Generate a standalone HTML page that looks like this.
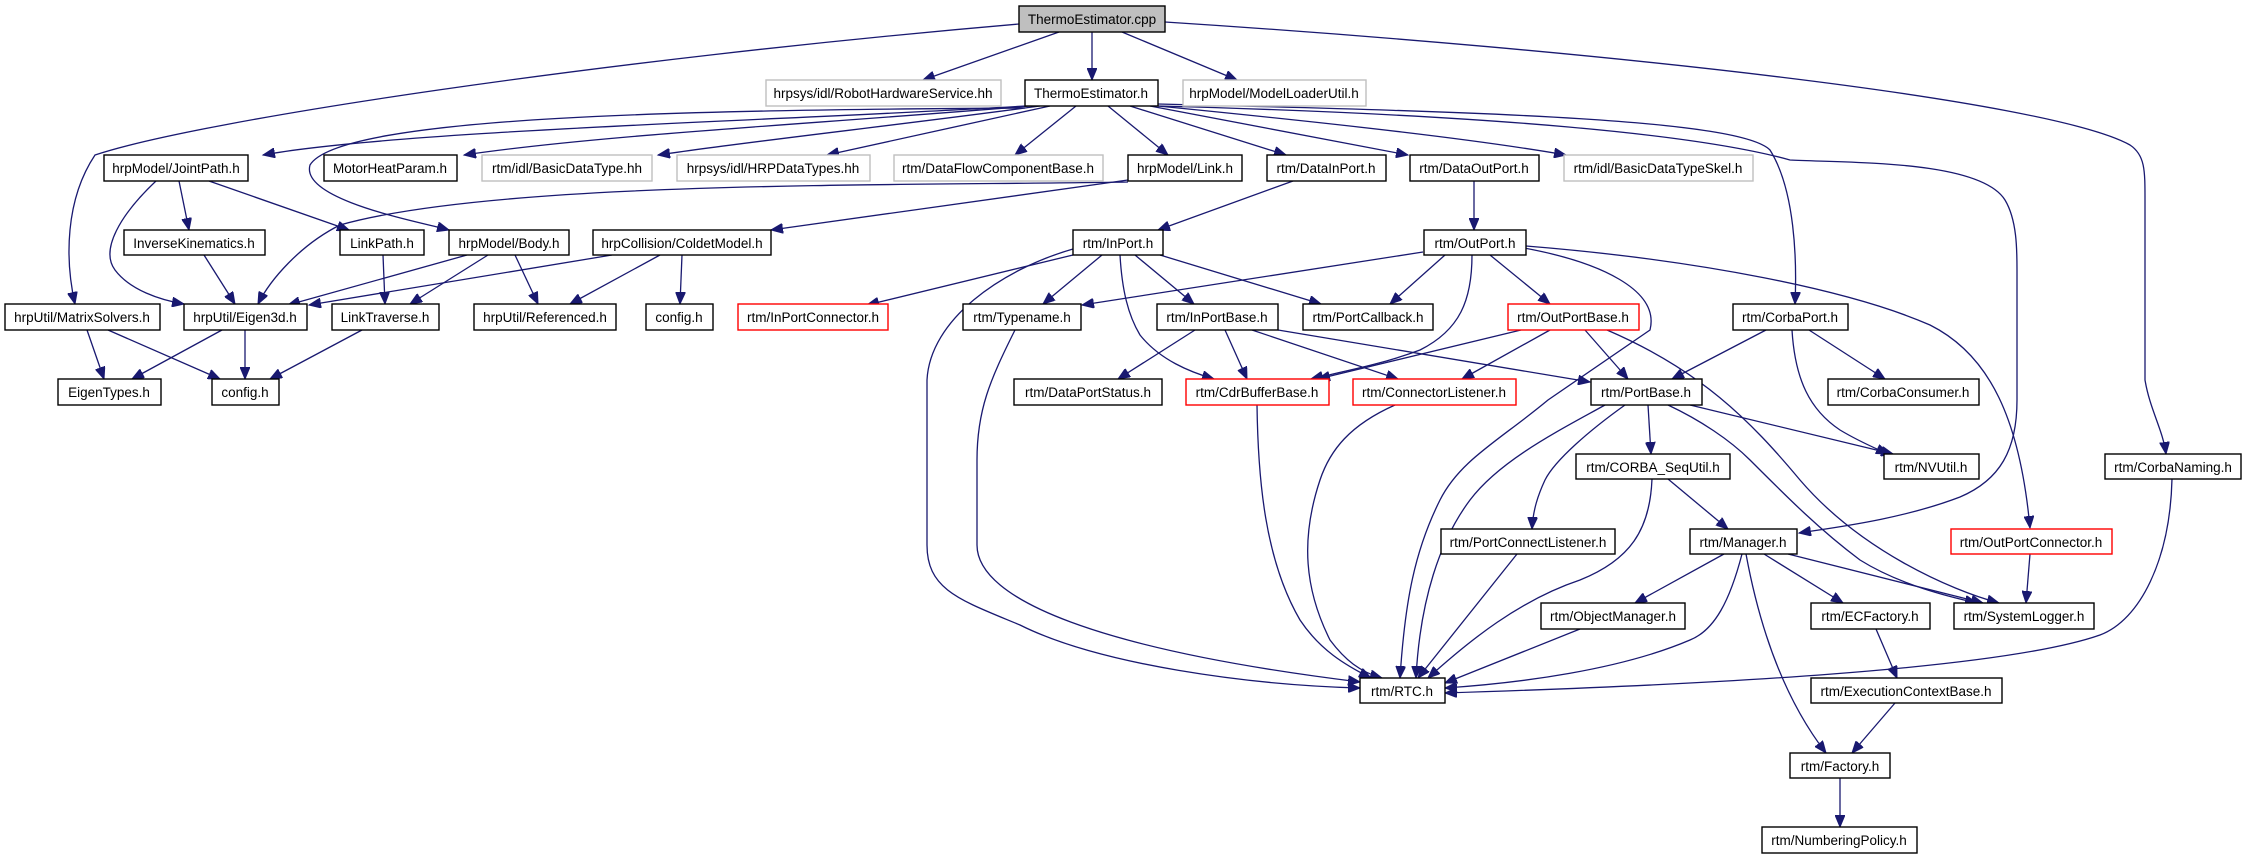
<!DOCTYPE html>
<html><head><meta charset="utf-8"><style>
html,body{margin:0;padding:0;background:#fff;}
svg{display:block;}
text{font-family:"Liberation Sans",sans-serif;font-size:13.5px;text-anchor:middle;fill:#000;}
.e{fill:none;stroke:#191970;stroke-width:1.3;marker-end:url(#a);}
.n{fill:#fff;stroke:#000;stroke-width:1.4;}
.g{fill:#fff;stroke:#bfbfbf;stroke-width:1.4;}
.r{fill:#fff;stroke:#ff0000;stroke-width:1.4;}
</style></head><body>
<svg width="2247" height="859" viewBox="0 0 2247 859" xmlns="http://www.w3.org/2000/svg">
<defs><marker id="a" markerUnits="userSpaceOnUse" markerWidth="14" markerHeight="10" refX="12" refY="5" orient="auto"><path d="M0,0 L12,5 L0,10 z" fill="#191970" stroke="#191970"/></marker></defs>

<!-- edges -->
<path class="e" d="M1059,32 L923,80"/>
<path class="e" d="M1092,32 L1092,80"/>
<path class="e" d="M1122,32 L1237,80"/>
<path class="e" d="M1019,24 C600,60 200,120 95,155 C65,200 65,260 75,304"/>
<path class="e" d="M1165,22 C1600,50 2050,100 2130,145 C2145,155 2145,170 2145,200 L2145,380 C2150,410 2163,430 2166,454"/>

<path class="e" d="M1025,106 C800,120 400,130 263,155"/>
<path class="e" d="M1030,106 C800,125 600,135 464,155"/>
<path class="e" d="M1040,106 C900,125 760,140 658,155"/>
<path class="e" d="M1050,106 L827,155"/>
<path class="e" d="M1076,106 L1015,155"/>
<path class="e" d="M1108,106 L1168,155"/>
<path class="e" d="M1130,106 L1286,155"/>
<path class="e" d="M1150,106 L1408,155"/>
<path class="e" d="M1158,106 C1350,125 1480,140 1566,155"/>
<path class="e" d="M1025,108 C700,110 340,115 310,165 C300,200 420,222 449,230"/>
<path class="e" d="M1158,104 C1500,112 1740,120 1770,150 C1795,190 1797,260 1795,304"/>
<path class="e" d="M1158,106 C1500,115 1700,135 1790,160 C1850,163 1980,160 2005,200 C2017,220 2017,250 2017,270 L2017,400 C2017,450 2000,480 1960,497 C1900,520 1830,528 1799,533"/>

<path class="e" d="M1128,182 C900,186 500,180 340,225 C300,245 270,280 258,304"/>
<path class="e" d="M1128,180 L771,230"/>
<path class="e" d="M1293,181 L1158,230"/>
<path class="e" d="M1474,181 L1474,230"/>

<path class="e" d="M467,255 L288,305"/>
<path class="e" d="M488,255 L410,304"/>
<path class="e" d="M515,255 L538,304"/>
<path class="e" d="M612,255 L309,305"/>
<path class="e" d="M660,255 L570,304"/>
<path class="e" d="M682,255 L680,304"/>
<path class="e" d="M179,181 L189,230"/>
<path class="e" d="M209,181 L349,230"/>
<path class="e" d="M156,181 C120,215 100,250 115,270 C130,290 160,300 184,304"/>
<path class="e" d="M204,255 L235,304"/>
<path class="e" d="M383,255 L385,304"/>
<path class="e" d="M87,330 L104,379"/>
<path class="e" d="M108,330 L220,379"/>
<path class="e" d="M222,330 L132,379"/>
<path class="e" d="M245,330 L245,379"/>
<path class="e" d="M362,330 L270,379"/>

<path class="e" d="M1073,255 L867,305"/>
<path class="e" d="M1102,255 L1043,304"/>
<path class="e" d="M1135,255 L1194,304"/>
<path class="e" d="M1160,255 L1321,304"/>
<path class="e" d="M1120,255 C1122,290 1128,315 1140,335 C1160,360 1190,372 1214,379"/>
<path class="e" d="M1073,249 C1000,270 930,320 927,380 L927,545 C927,590 960,600 1020,625 C1100,665 1250,685 1360,688"/>
<path class="e" d="M1015,330 C990,380 977,410 977,460 L977,545 C977,600 1100,650 1360,682"/>
<path class="e" d="M1423,252 L1082,305"/>
<path class="e" d="M1195,330 L1118,379"/>
<path class="e" d="M1225,330 L1247,379"/>
<path class="e" d="M1252,330 L1398,379"/>
<path class="e" d="M1278,330 L1590,382"/>
<path class="e" d="M1257,405 C1258,480 1265,560 1300,620 C1320,650 1345,665 1371,678"/>
<path class="e" d="M1395,405 C1350,425 1330,450 1320,480 C1300,540 1305,590 1330,640 C1345,660 1360,672 1382,678"/>

<path class="e" d="M1445,255 L1390,304"/>
<path class="e" d="M1490,255 L1550,304"/>
<path class="e" d="M1472,255 C1472,300 1460,330 1420,350 C1380,365 1340,372 1311,379"/>
<path class="e" d="M1524,248 C1600,262 1660,290 1650,330 L1548,400 C1500,440 1460,460 1440,500 C1415,550 1405,600 1400,678"/>
<path class="e" d="M1526,246 C1700,260 1850,290 1930,325 C1990,355 2020,420 2030,528"/>
<path class="e" d="M1521,330 L1318,379"/>
<path class="e" d="M1550,330 L1462,379"/>
<path class="e" d="M1585,330 L1628,379"/>
<path class="e" d="M1607,330 C1700,370 1750,420 1800,480 C1860,550 1950,590 1999,603"/>
<path class="e" d="M1766,330 L1672,379"/>
<path class="e" d="M1809,330 L1885,379"/>
<path class="e" d="M1792,330 C1795,380 1810,410 1840,430 C1860,442 1875,448 1888,454"/>

<path class="e" d="M1648,405 L1651,454"/>
<path class="e" d="M1690,405 L1893,454"/>
<path class="e" d="M1668,405 C1700,420 1730,440 1750,460 C1790,500 1820,530 1860,560 C1900,585 1950,597 1977,603"/>
<path class="e" d="M1625,405 C1590,430 1555,460 1545,480 C1538,495 1533,510 1532,529"/>
<path class="e" d="M1605,405 C1560,430 1500,460 1470,500 C1440,540 1420,600 1416,678"/>
<path class="e" d="M1668,479 L1728,529"/>
<path class="e" d="M1652,479 C1650,530 1630,560 1580,580 C1520,600 1470,640 1428,678"/>
<path class="e" d="M1517,554 L1418,678"/>
<path class="e" d="M1580,629 L1445,683"/>
<path class="e" d="M1724,554 L1635,603"/>
<path class="e" d="M1742,554 C1730,600 1715,630 1690,640 C1620,670 1520,683 1445,688"/>
<path class="e" d="M1746,554 C1760,630 1785,700 1826,753"/>
<path class="e" d="M1764,554 L1843,603"/>
<path class="e" d="M1788,554 L1983,603"/>
<path class="e" d="M2172,479 C2170,560 2140,620 2100,635 C2000,670 1700,685 1445,693"/>
<path class="e" d="M2030,554 L2026,603"/>
<path class="e" d="M1876,629 L1897,678"/>
<path class="e" d="M1895,703 L1852,753"/>
<path class="e" d="M1840,778 L1840,827"/>

<!-- nodes -->
<rect x="1019" y="6" width="146" height="26" fill="#bfbfbf" stroke="#000" stroke-width="1.4"/><text x="1092" y="24">ThermoEstimator.cpp</text>
<rect class="g" x="766" y="80" width="235" height="26"/><text x="883" y="98">hrpsys/idl/RobotHardwareService.hh</text>
<rect class="n" x="1025" y="80" width="133" height="26"/><text x="1091" y="98">ThermoEstimator.h</text>
<rect class="g" x="1183" y="80" width="183" height="26"/><text x="1274" y="98">hrpModel/ModelLoaderUtil.h</text>

<rect class="n" x="104" y="155" width="144" height="26"/><text x="176" y="173">hrpModel/JointPath.h</text>
<rect class="n" x="324" y="155" width="133" height="26"/><text x="390" y="173">MotorHeatParam.h</text>
<rect class="g" x="482" y="155" width="170" height="26"/><text x="567" y="173">rtm/idl/BasicDataType.hh</text>
<rect class="g" x="677" y="155" width="193" height="26"/><text x="773" y="173">hrpsys/idl/HRPDataTypes.hh</text>
<rect class="g" x="894" y="155" width="209" height="26"/><text x="998" y="173">rtm/DataFlowComponentBase.h</text>
<rect class="n" x="1128" y="155" width="114" height="26"/><text x="1185" y="173">hrpModel/Link.h</text>
<rect class="n" x="1267" y="155" width="119" height="26"/><text x="1326" y="173">rtm/DataInPort.h</text>
<rect class="n" x="1410" y="155" width="129" height="26"/><text x="1474" y="173">rtm/DataOutPort.h</text>
<rect class="g" x="1564" y="155" width="189" height="26"/><text x="1658" y="173">rtm/idl/BasicDataTypeSkel.h</text>

<rect class="n" x="124" y="230" width="141" height="25"/><text x="194" y="248">InverseKinematics.h</text>
<rect class="n" x="340" y="230" width="84" height="25"/><text x="382" y="248">LinkPath.h</text>
<rect class="n" x="449" y="230" width="120" height="25"/><text x="509" y="248">hrpModel/Body.h</text>
<rect class="n" x="593" y="230" width="178" height="25"/><text x="682" y="248">hrpCollision/ColdetModel.h</text>
<rect class="n" x="1073" y="230" width="90" height="25"/><text x="1118" y="248">rtm/InPort.h</text>
<rect class="n" x="1424" y="230" width="102" height="25"/><text x="1475" y="248">rtm/OutPort.h</text>

<rect class="n" x="5" y="304" width="155" height="26"/><text x="82" y="322">hrpUtil/MatrixSolvers.h</text>
<rect class="n" x="184" y="304" width="123" height="26"/><text x="245" y="322">hrpUtil/Eigen3d.h</text>
<rect class="n" x="332" y="304" width="107" height="26"/><text x="385" y="322">LinkTraverse.h</text>
<rect class="n" x="474" y="304" width="142" height="26"/><text x="545" y="322">hrpUtil/Referenced.h</text>
<rect class="n" x="646" y="304" width="67" height="26"/><text x="679" y="322">config.h</text>
<rect class="r" x="738" y="304" width="150" height="26"/><text x="813" y="322">rtm/InPortConnector.h</text>
<rect class="n" x="963" y="304" width="118" height="26"/><text x="1022" y="322">rtm/Typename.h</text>
<rect class="n" x="1157" y="304" width="121" height="26"/><text x="1217" y="322">rtm/InPortBase.h</text>
<rect class="n" x="1303" y="304" width="130" height="26"/><text x="1368" y="322">rtm/PortCallback.h</text>
<rect class="r" x="1508" y="304" width="131" height="26"/><text x="1573" y="322">rtm/OutPortBase.h</text>
<rect class="n" x="1733" y="304" width="115" height="26"/><text x="1790" y="322">rtm/CorbaPort.h</text>

<rect class="n" x="58" y="379" width="103" height="26"/><text x="109" y="397">EigenTypes.h</text>
<rect class="n" x="212" y="379" width="67" height="26"/><text x="245" y="397">config.h</text>
<rect class="n" x="1014" y="379" width="148" height="26"/><text x="1088" y="397">rtm/DataPortStatus.h</text>
<rect class="r" x="1186" y="379" width="143" height="26"/><text x="1257" y="397">rtm/CdrBufferBase.h</text>
<rect class="r" x="1353" y="379" width="163" height="26"/><text x="1434" y="397">rtm/ConnectorListener.h</text>
<rect class="n" x="1591" y="379" width="111" height="26"/><text x="1646" y="397">rtm/PortBase.h</text>
<rect class="n" x="1828" y="379" width="151" height="26"/><text x="1903" y="397">rtm/CorbaConsumer.h</text>

<rect class="n" x="1576" y="454" width="154" height="25"/><text x="1653" y="472">rtm/CORBA_SeqUtil.h</text>
<rect class="n" x="1884" y="454" width="95" height="25"/><text x="1931" y="472">rtm/NVUtil.h</text>
<rect class="n" x="2105" y="454" width="136" height="25"/><text x="2173" y="472">rtm/CorbaNaming.h</text>

<rect class="n" x="1441" y="529" width="174" height="25"/><text x="1528" y="547">rtm/PortConnectListener.h</text>
<rect class="n" x="1690" y="529" width="107" height="25"/><text x="1743" y="547">rtm/Manager.h</text>
<rect class="r" x="1951" y="529" width="161" height="25"/><text x="2031" y="547">rtm/OutPortConnector.h</text>

<rect class="n" x="1541" y="603" width="144" height="26"/><text x="1613" y="621">rtm/ObjectManager.h</text>
<rect class="n" x="1811" y="603" width="119" height="26"/><text x="1870" y="621">rtm/ECFactory.h</text>
<rect class="n" x="1954" y="603" width="140" height="26"/><text x="2024" y="621">rtm/SystemLogger.h</text>

<rect class="n" x="1360" y="678" width="85" height="25"/><text x="1402" y="696">rtm/RTC.h</text>
<rect class="n" x="1811" y="678" width="191" height="25"/><text x="1906" y="696">rtm/ExecutionContextBase.h</text>
<rect class="n" x="1790" y="753" width="100" height="25"/><text x="1840" y="771">rtm/Factory.h</text>
<rect class="n" x="1762" y="827" width="155" height="26"/><text x="1839" y="845">rtm/NumberingPolicy.h</text>
</svg>
</body></html>
